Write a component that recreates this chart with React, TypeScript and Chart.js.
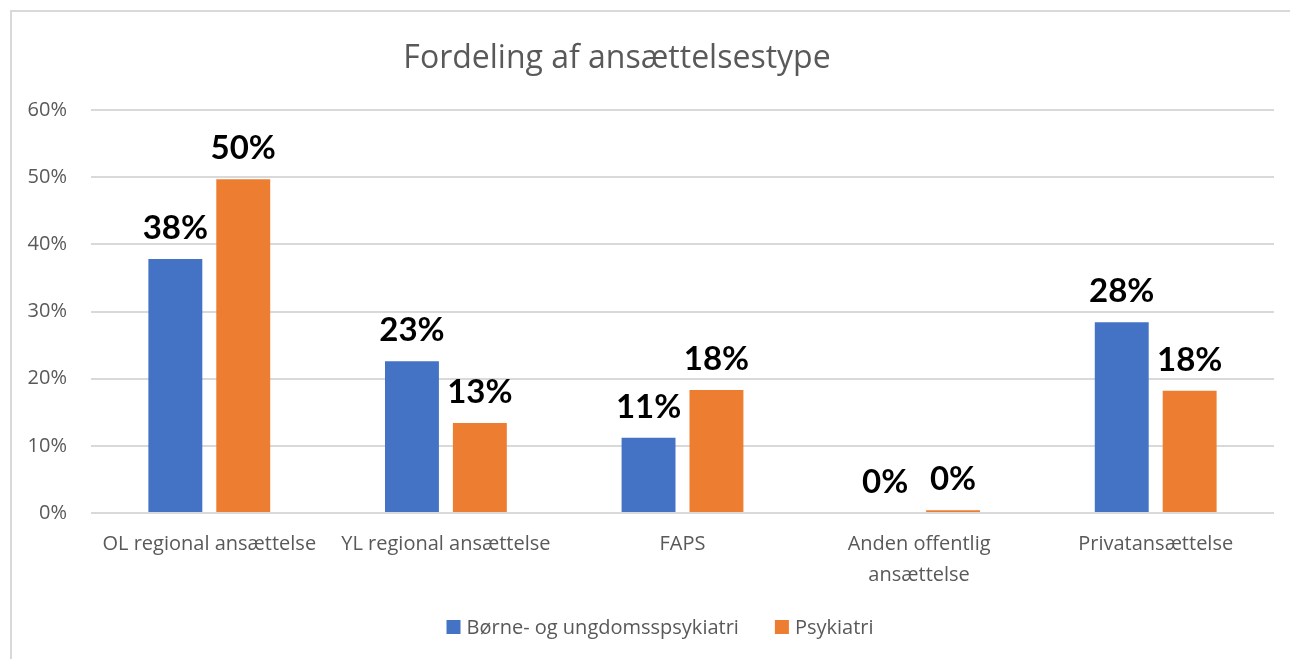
import React, { useEffect, useRef } from "react";
import { Chart, registerables } from "chart.js";

Chart.register(...registerables);

const categories: (string | string[])[] = [
  "OL regional ansættelse",
  "YL regional ansættelse",
  "FAPS",
  ["Anden offentlig", "ansættelse"],
  "Privatansættelse",
];
const seriesNames = ["Børne- og ungdomsspsykiatri", "Psykiatri"];
const bupValues = [37.8, 22.6, 11.2, 0, 28.4];
const psykValues = [49.7, 13.4, 18.3, 0.4, 18.2];
const yTickValues = [0, 10, 20, 30, 40, 50, 60];
const titleText = "Fordeling af ansættelsestype";

const BLUE = "#4472C4";
const ORANGE = "#ED7D31";
const GREY_TEXT = "#595959";
const GRID = "#d9d9d9";
const FONT = "'Open Sans', sans-serif";
const LABEL_FONT = "Lato, sans-serif";

const overlayPlugin = {
  id: "overlay",
  afterDatasetsDraw(chart: any) {
    const ctx = chart.ctx;
    ctx.save();
    ctx.fillStyle = "#000";
    ctx.font = `bold 33px ${LABEL_FONT}`;
    ctx.textAlign = "center";
    ctx.textBaseline = "alphabetic";
    chart.data.datasets.forEach((ds: any, di: number) => {
      const meta = chart.getDatasetMeta(di);
      meta.data.forEach((bar: any, i: number) => {
        const v = ds.data[i];
        ctx.fillText(Math.round(v) + "%", bar.x, bar.y - 20);
      });
    });
    ctx.restore();
  },
  afterDraw(chart: any) {
    const ctx = chart.ctx;
    ctx.save();
    // title
    ctx.fillStyle = GREY_TEXT;
    ctx.font = `32px ${FONT}`;
    ctx.textAlign = "center";
    ctx.textBaseline = "middle";
    ctx.fillText(titleText, 617, 59);
    // legend
    ctx.font = `20px ${FONT}`;
    ctx.textAlign = "left";
    const colors = [BLUE, ORANGE];
    const widths = seriesNames.map((n) => ctx.measureText(n).width);
    const box = 14, gapText = 6, gapItem = 36;
    const total = widths.reduce((a, w) => a + box + gapText + w, 0) + gapItem * (seriesNames.length - 1);
    let x = 660 - total / 2;
    const cy = 627;
    seriesNames.forEach((n, i) => {
      ctx.fillStyle = colors[i];
      ctx.fillRect(x, cy - box / 2, box, box);
      ctx.fillStyle = GREY_TEXT;
      ctx.fillText(n, x + box + gapText, cy + 1);
      x += box + gapText + widths[i] + gapItem;
    });
    ctx.restore();
  },
};

export default function App() {
  const ref = useRef<HTMLCanvasElement>(null);
  useEffect(() => {
    document.body.style.margin = "0";
    document.body.style.overflow = "hidden";
    const chart = new Chart(ref.current!, {
      type: "bar",
      data: {
        labels: categories,
        datasets: [
          {
            label: seriesNames[0],
            data: bupValues,
            backgroundColor: BLUE,
            categoryPercentage: 0.574,
            barPercentage: 0.794,
          },
          {
            label: seriesNames[1],
            data: psykValues,
            backgroundColor: ORANGE,
            categoryPercentage: 0.574,
            barPercentage: 0.794,
          },
        ],
      },
      options: {
        animation: false,
        responsive: true,
        maintainAspectRatio: false,
        layout: { padding: { left: 0, right: 16, top: 110, bottom: 46 } },
        plugins: {
          legend: { display: false },
          title: { display: false },
          tooltip: { enabled: false },
        },
        scales: {
          x: {
            grid: { display: false, drawTicks: false },
            border: { display: false },
            ticks: {
              color: GREY_TEXT,
              font: { family: FONT, size: 20, lineHeight: 1.55 },
              padding: 16,
              maxRotation: 0,
              autoSkip: false,
            },
            afterFit(scale: any) {
              scale.height = 100;
            },
          },
          y: {
            min: 0,
            max: 60,
            afterBuildTicks(scale: any) {
              scale.ticks = yTickValues.map((v) => ({ value: v }));
            },
            grid: { color: GRID, lineWidth: 2, drawTicks: false },
            border: { display: false },
            ticks: {
              color: GREY_TEXT,
              font: { family: FONT, size: 20 },
              padding: 24,
              callback: (v: any) => v + "%",
            },
            afterFit(scale: any) {
              scale.width = 91;
            },
          },
        },
      },
      plugins: [overlayPlugin],
    });
    return () => chart.destroy();
  }, []);
  return (
    <div style={{ position: "fixed", left: 0, top: 0, width: 1290, height: 659, background: "#fff", overflow: "hidden" }}>
      <div
        style={{
          position: "absolute",
          left: 10,
          top: 10,
          width: 1300,
          height: 700,
          border: `2px solid ${GRID}`,
          boxSizing: "border-box",
        }}
      />
      <div style={{ position: "absolute", left: 0, top: 0, width: 1290, height: 659 }}>
        <canvas ref={ref} />
      </div>
    </div>
  );
}
